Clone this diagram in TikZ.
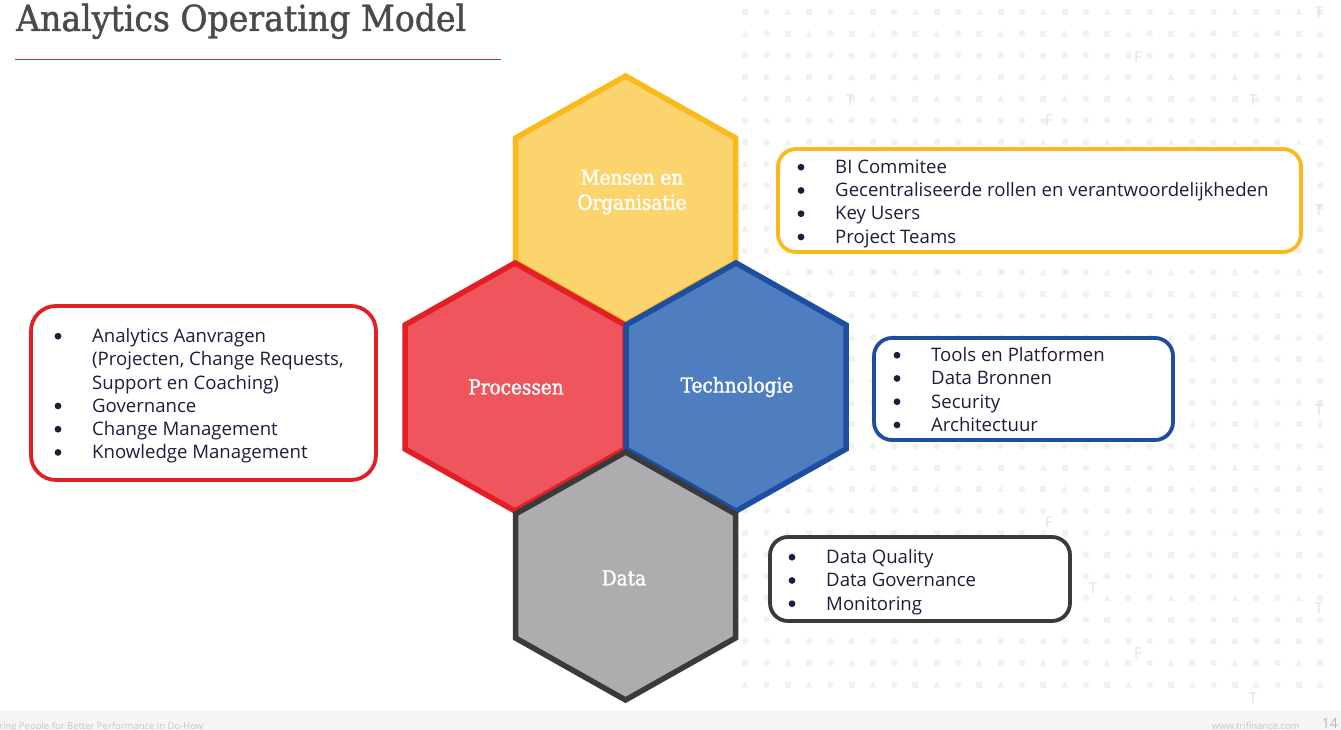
\documentclass[tikz,border=0pt]{standalone}
\usepackage{fontspec}
\setmainfont{Open Sans}
\newfontfamily\slab[FakeStretch=0.92,FakeBold=1.2]{DejaVu Serif}
\newfontfamily\slabl[FakeStretch=0.9,FakeBold=1.6]{DejaVu Serif}
\usepackage{array}
\definecolor{yellowF}{HTML}{FCD46E}
\definecolor{yellowS}{HTML}{FBBA1B}
\definecolor{redF}{HTML}{EF555C}
\definecolor{redS}{HTML}{E21E26}
\definecolor{blueF}{HTML}{4F7EC0}
\definecolor{blueS}{HTML}{1D4E9F}
\definecolor{grayF}{HTML}{ADADB0}
\definecolor{grayS}{HTML}{3A3A3C}
\definecolor{navy}{HTML}{1E1E3C}
\definecolor{titlegray}{HTML}{4A4A4A}
\definecolor{underline}{HTML}{B03A3A}
\definecolor{patgray}{HTML}{F1F1F1}
\definecolor{letgray}{HTML}{E2E2E2}
\newcommand\nob{\makebox[34pt][l]{}}
\begin{document}
\begin{tikzpicture}[x=1pt,y=-1pt,
  hex/.pic={\path[pic actions] (0,-124) -- (110,-62) -- (110,62) -- (0,124) -- (-110,62) -- (-110,-62) -- cycle;},
  hexY/.style={fill=yellowF,draw=yellowS,line width=5.5pt,line join=miter},
  hexR/.style={fill=redF,draw=redS,line width=5.5pt,line join=miter},
  hexB/.style={fill=blueF,draw=blueS,line width=5.5pt,line join=miter},
  hexG/.style={fill=grayF,draw=grayS,line width=5.5pt,line join=miter},
  hexlabel/.style={text=white,font=\slabl\fontsize{20.5}{25}\selectfont,align=center,inner sep=0},
  box/.style={rectangle,fill=white,line width=3.8pt,rounded corners=18pt,inner sep=0},
  listtext/.style={anchor=base west,inner sep=0,text=navy,font=\fontsize{18.6}{23.25}\selectfont},
  bullet/.style={fill=navy},
  pat/.style={fill=patgray},
  letter/.style={text=letgray,font=\fontsize{15}{15}\selectfont,inner sep=0}
]
\useasboundingbox (0,0) rectangle (1341,730);
\fill[white] (0,0) rectangle (1341,730);
% background pattern
\foreach \i in {0,...,27} {
  \foreach \j in {0,...,31} {
    \pgfmathtruncatemacro\k{mod(\i*7+\j*5+\i*\j,3)}
    \pgfmathsetmacro\px{745+\i*21.3}
    \pgfmathsetmacro\py{12+\j*21.7}
    \ifcase\k
      \fill[pat] (\px-3,\py-3) rectangle (\px+3,\py+3);
    \or
      \fill[pat] (\px,\py) circle (3.2pt);
    \or
      \fill[pat] (\px-3.6,\py+3) -- (\px+3.6,\py+3) -- (\px,\py-3.6) -- cycle;
    \fi
  }
}
\node[letter] (l1) at (1319,12) {T};
\node[letter] (l2) at (1138,57) {F};
\node[letter] (l3) at (1253,100) {T};
\node[letter] (l4) at (850,100) {T};
\node[letter] (l5) at (1049,120) {F};
\node[letter] (l6) at (1319,210) {T};
\node[letter] (l7) at (1319,410) {T};
\node[letter] (l8) at (1049,522) {F};
\node[letter] (l9) at (1093,588) {T};
\node[letter] (l10) at (1319,608) {T};
\node[letter] (l11) at (1138,653) {F};
\node[letter] (l12) at (1253,698) {T};
% footer
\fill[black!4] (0,711) rectangle (1341,730);
\node[anchor=base west,inner sep=0,text=black!22,font=\fontsize{9.5}{10}\selectfont] (foot1) at (-1,729) {ring People for Better Performance in Do-How};
\node[anchor=base east,inner sep=0,text=black!22,font=\fontsize{9.5}{10}\selectfont] (foot2) at (1300,729) {www.trifinance.com};
\node[anchor=base east,inner sep=0,text=black!28,font=\fontsize{14}{14}\selectfont] (page) at (1338,728) {14};
% title
\node[anchor=base west,inner sep=0,text=titlegray,font=\slab\fontsize{36}{36}\selectfont] (title) at (16,31) {Analytics Operating Model};
\draw[underline,line width=1pt] (15,59.5) -- (501,59.5);
% hexagons
\pic[hexY] (hexmensen) at (625.5,200) {hex};
\pic[hexR] (hexproc) at (515,387) {hex};
\pic[hexB] (hextech) at (736,387) {hex};
\pic[hexG] (hexdata) at (625.5,576) {hex};
\node[hexlabel] (mensen) at (632,192) {Mensen en\\Organisatie};
\node[hexlabel] (proc) at (516,387) {Processen};
\node[hexlabel] (tech) at (737,387) {Technologie};
\node[hexlabel] (data) at (624,578) {Data};
% boxes
\node[box,draw=yellowS,minimum width=523,minimum height=103] (mensenbox) at (1039.5,200.5) {};
\node[box,draw=redS,minimum width=345,minimum height=174,rounded corners=25pt] (procbox) at (203.5,393) {};
\node[box,draw=blueS,minimum width=299,minimum height=102] (techbox) at (1023.5,389) {};
\node[box,draw=grayS,minimum width=300,minimum height=84] (databox) at (920,579) {};
\node[listtext] (mensenlist) at (801,173.5) {\begin{tabular}[t]{@{}l@{}}
\nob BI Commitee\\
\nob Gecentraliseerde rollen en verantwoordelijkheden\\
\nob Key Users\\
\nob Project Teams
\end{tabular}};
\node[listtext] (proclist) at (58,342.5) {\begin{tabular}[t]{@{}l@{}}
\nob Analytics Aanvragen\\
\nob (Projecten, Change Requests,\\
\nob Support en Coaching)\\
\nob Governance\\
\nob Change Management\\
\nob Knowledge Management
\end{tabular}};
\node[listtext] (techlist) at (897,361.5) {\begin{tabular}[t]{@{}l@{}}
\nob Tools en Platformen\\
\nob Data Bronnen\\
\nob Security\\
\nob Architectuur
\end{tabular}};
\node[listtext] (datalist) at (792,563.5) {\begin{tabular}[t]{@{}l@{}}
\nob Data Quality\\
\nob Data Governance\\
\nob Monitoring
\end{tabular}};
% bullets
\foreach \k in {0,1,2,3} \fill[bullet] (801,{167.2+\k*23.25}) circle (3.4pt);
\foreach \k in {0,3,4,5} \fill[bullet] (58,{336.2+\k*23.25}) circle (3.4pt);
\foreach \k in {0,1,2,3} \fill[bullet] (897,{355.2+\k*23.25}) circle (3.4pt);
\foreach \k in {0,1,2} \fill[bullet] (792,{557.2+\k*23.25}) circle (3.4pt);
\end{tikzpicture}
\end{document}
